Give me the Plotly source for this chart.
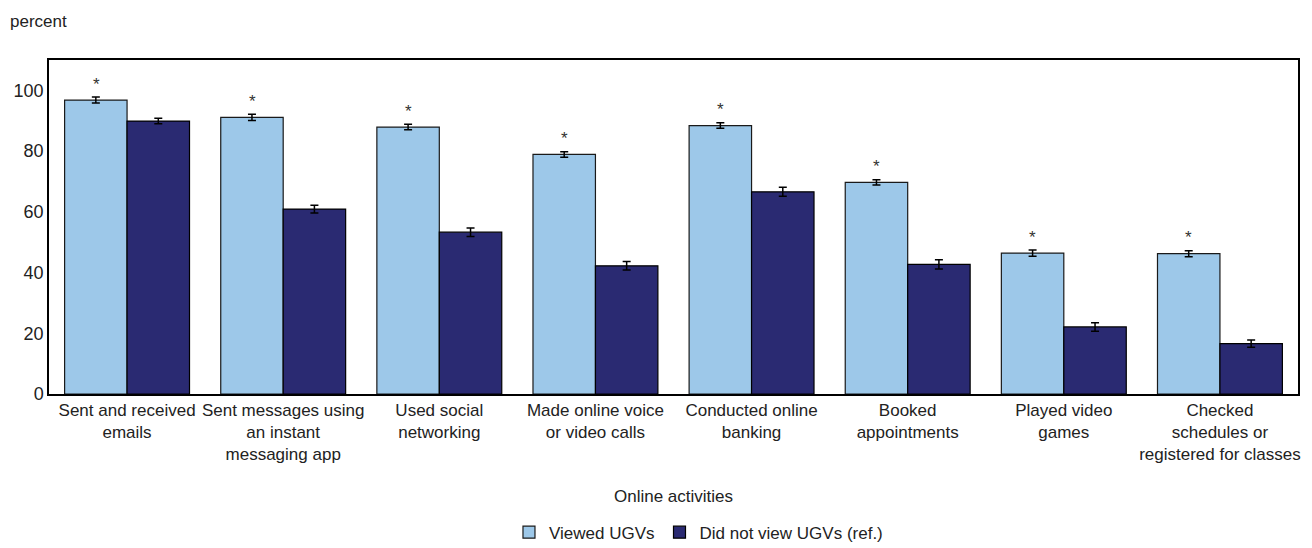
import plotly.graph_objects as go

categories = [
    "Sent and received<br>emails",
    "Sent messages using<br>an instant<br>messaging app",
    "Used social<br>networking",
    "Made online voice<br>or video calls",
    "Conducted online<br>banking",
    "Booked<br>appointments",
    "Played video<br>games",
    "Checked<br>schedules or<br>registered for classes",
]
viewed = [96.8, 91.1, 87.9, 78.9, 88.4, 69.7, 46.4, 46.2]
viewed_err = [1.0, 1.0, 0.9, 0.9, 0.9, 0.9, 1.0, 1.0]
not_viewed = [89.9, 60.9, 53.3, 42.2, 66.6, 42.7, 22.1, 16.6]
not_viewed_err = [0.9, 1.3, 1.4, 1.4, 1.5, 1.5, 1.4, 1.2]
significant = [True, True, True, True, True, True, True, True]

FONT = "Liberation Sans, Arial, sans-serif"
TXT = "#222222"
LIGHT = "#9DC8E9"
DARK = "#2A2A72"

fig = go.Figure()
fig.add_trace(go.Bar(
    x=categories, y=viewed, name="Viewed UGVs",
    marker=dict(color=LIGHT, line=dict(color="#1a1a1a", width=1.2)),
    error_y=dict(type="data", array=viewed_err, color="#000000", thickness=1.5, width=4),
))
fig.add_trace(go.Bar(
    x=categories, y=not_viewed, name="Did not view UGVs (ref.)",
    marker=dict(color=DARK, line=dict(color="#000000", width=1.2)),
    error_y=dict(type="data", array=not_viewed_err, color="#000000", thickness=1.5, width=4),
))

# asterisk over each statistically different "viewed" bar
for cat, v, e, sig in zip(categories, viewed, viewed_err, significant):
    if sig:
        fig.add_annotation(
            x=cat, y=v + e, xshift=-31, yshift=13, text="*", showarrow=False,
            font=dict(family=FONT, size=17, color="#333333"),
        )

# unit label above the y axis
fig.add_annotation(
    xref="paper", yref="paper", x=-0.033, y=1.114, xanchor="left", yanchor="middle",
    text="percent", showarrow=False, font=dict(family=FONT, size=17, color=TXT),
)
# x axis title
fig.add_annotation(
    xref="paper", yref="paper", x=0.5, y=-0.308, xanchor="center", yanchor="middle",
    text="Online activities", showarrow=False, font=dict(family=FONT, size=17, color=TXT),
)

fig.update_layout(
    width=1312, height=548,
    margin=dict(l=49, r=14, t=60, b=154, autoexpand=False),
    paper_bgcolor="white", plot_bgcolor="white",
    barmode="group", bargap=0.2, bargroupgap=0,
    font=dict(family=FONT, size=17, color=TXT),
    showlegend=True,
    legend=dict(
        orientation="h", x=0.52, xanchor="center", y=-0.415, yanchor="middle",
        font=dict(family=FONT, size=17, color=TXT),
        itemwidth=30,
    ),
)
fig.update_xaxes(
    automargin=False,
    showline=True, linecolor="#000000", linewidth=1.5, mirror=True,
    ticks="", tickfont=dict(family=FONT, size=17, color=TXT),
)
fig.update_yaxes(
    automargin=False,
    range=[0, 110], tickvals=[0, 20, 40, 60, 80, 100],
    showline=True, linecolor="#000000", linewidth=1.5, mirror=True,
    showgrid=False, zeroline=False, ticks="",
    tickfont=dict(family=FONT, size=18, color=TXT),
)

fig.write_html("out.html")
